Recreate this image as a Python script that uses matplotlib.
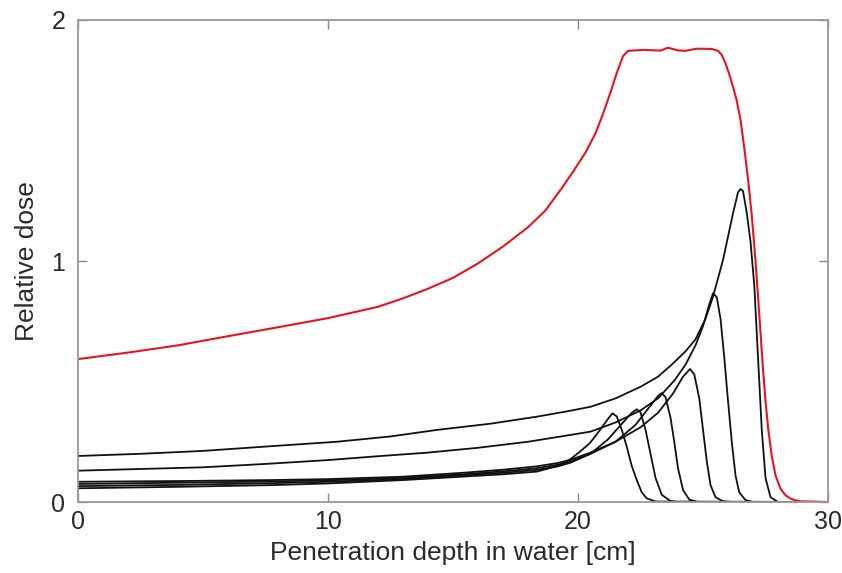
import matplotlib
matplotlib.use("Agg")
import matplotlib.pyplot as plt

plt.rcParams['font.family'] = ['Liberation Sans', 'DejaVu Sans']

# spread-out Bragg peak (red)
sobp_x = [0, 2, 4, 6, 8, 10, 12, 13, 14, 15, 16, 17, 18, 18.7, 19.3, 19.8, 20.3, 20.7, 21.0,
          21.3, 21.55, 21.8, 22.0, 22.6, 23.3, 23.6, 24.0, 24.3, 24.75, 25.35, 25.6, 25.75,
          25.9, 26.05, 26.2, 26.35, 26.5, 26.65, 26.8, 26.95, 27.1, 27.25, 27.4, 27.5, 27.6,
          27.75, 27.9, 28.1, 28.3, 28.5, 28.7, 28.9, 30]
sobp_y = [0.593, 0.62, 0.65, 0.688, 0.725, 0.763, 0.81, 0.845, 0.885, 0.93, 0.99, 1.06, 1.14,
          1.21, 1.295, 1.37, 1.45, 1.53, 1.61, 1.7, 1.78, 1.85, 1.872, 1.876, 1.873, 1.885,
          1.874, 1.872, 1.881, 1.880, 1.872, 1.855, 1.82, 1.775, 1.723, 1.665, 1.585, 1.47,
          1.34, 1.19, 1.0, 0.78, 0.55, 0.42, 0.31, 0.19, 0.11, 0.055, 0.028, 0.014, 0.007,
          0.003, 0.0]

# pristine Bragg peaks (black), shallow to deep
peak_a_x = [0, 4, 7.7, 10, 13, 15.5, 17, 18.35, 19.2, 19.7, 20.08, 20.48, 20.88, 21.2, 21.38,
            21.55, 21.75, 21.95, 22.15, 22.35, 22.55, 22.75, 23.1, 30]
peak_a_y = [0.057, 0.063, 0.07, 0.077, 0.091, 0.106, 0.115, 0.126, 0.15, 0.178, 0.209, 0.245,
            0.299, 0.345, 0.368, 0.355, 0.3, 0.229, 0.15, 0.091, 0.04, 0.015, 0.002, 0.0]

peak_b_x = [0, 4, 7.7, 10, 13, 15.5, 17, 18.35, 19.2, 19.7, 20.5, 21.2, 21.8, 22.15, 22.35,
            22.5, 22.7, 22.9, 23.1, 23.35, 23.7, 24.0, 30]
peak_b_y = [0.066, 0.071, 0.078, 0.084, 0.095, 0.111, 0.121, 0.133, 0.148, 0.163, 0.2, 0.26,
            0.33, 0.37, 0.385, 0.372, 0.3, 0.2, 0.1, 0.03, 0.004, 0.0, 0.0]

peak_c_x = [0, 4, 7.7, 10, 13, 15.5, 17, 18.35, 19.2, 19.7, 20.5, 21.5, 22.3, 22.9, 23.2,
            23.35, 23.5, 23.7, 23.85, 24.0, 24.2, 24.45, 24.8, 30]
peak_c_y = [0.075, 0.08, 0.085, 0.09, 0.1, 0.116, 0.127, 0.14, 0.155, 0.168, 0.2, 0.25, 0.32,
            0.4, 0.44, 0.452, 0.435, 0.35, 0.25, 0.14, 0.05, 0.01, 0.0, 0.0]

peak_d_x = [0, 4, 7.7, 10, 13, 15.5, 17, 18.35, 19.2, 19.7, 20.5, 21.5, 22.5, 23.2, 23.8,
            24.2, 24.48, 24.65, 24.85, 25.0, 25.15, 25.3, 25.5, 25.8, 26.2, 30]
peak_d_y = [0.084, 0.087, 0.091, 0.095, 0.105, 0.122, 0.134, 0.148, 0.162, 0.175, 0.205, 0.25,
            0.31, 0.37, 0.45, 0.52, 0.552, 0.53, 0.43, 0.3, 0.17, 0.07, 0.02, 0.003, 0.0, 0.0]

peak_e_x = [0, 2.5, 5, 7.5, 10, 12, 14, 16, 18, 19.5, 20.5, 21.5, 22.5, 23.2, 23.87, 24.3,
            24.7, 25.0, 25.25, 25.4, 25.55, 25.7, 25.85, 26.0, 26.15, 26.3, 26.45, 26.7, 27.0,
            30]
peak_e_y = [0.130, 0.137, 0.144, 0.158, 0.174, 0.19, 0.205, 0.225, 0.25, 0.275, 0.292, 0.33,
            0.38, 0.43, 0.506, 0.57, 0.65, 0.73, 0.82, 0.866, 0.85, 0.76, 0.6, 0.42, 0.25, 0.11,
            0.04, 0.008, 0.0, 0.0]

peak_f_x = [0, 2.5, 5, 7.5, 10.35, 12.5, 14.35, 16.5, 18.35, 19.5, 20.5, 21.5, 22.5, 23.2,
            23.8, 24.3, 24.7, 25.1, 25.4, 25.8, 26.2, 26.4, 26.5, 26.6, 26.75, 26.9, 27.05,
            27.2, 27.35, 27.5, 27.7, 28.0, 30]
peak_f_y = [0.191, 0.2, 0.212, 0.23, 0.25, 0.272, 0.299, 0.325, 0.354, 0.375, 0.395, 0.43,
            0.478, 0.52, 0.575, 0.625, 0.675, 0.76, 0.852, 1.004, 1.198, 1.285, 1.299, 1.29,
            1.2, 1.08, 0.9, 0.6, 0.3, 0.1, 0.02, 0.0, 0.0]

peaks = [(peak_a_x, peak_a_y), (peak_b_x, peak_b_y), (peak_c_x, peak_c_y),
         (peak_d_x, peak_d_y), (peak_e_x, peak_e_y), (peak_f_x, peak_f_y)]

fig = plt.figure(figsize=(8.42, 5.73), dpi=100)
ax = fig.add_axes([0.0926, 0.1239, 0.8908, 0.8412])

for px, py in peaks:
    ax.plot(px, py, color='#111111', lw=1.3)
ax.plot(sobp_x, sobp_y, color='#e8141c', lw=1.5)

ax.set_xlim(0, 30)
ax.set_ylim(0, 2)
ax.set_xticks([0, 10, 20, 30])
ax.set_yticks([0, 1, 2])
ax.tick_params(direction='in', length=6.5, width=1, color='#888888', top=True, right=True,
               labelsize=18, labelcolor='#2a2a2a')
ax.tick_params(axis='x', pad=6)
ax.tick_params(axis='y', pad=9)
for sp in ax.spines.values():
    sp.set_color('#999999')
    sp.set_linewidth(1.3)

ax.set_xlabel('Penetration depth in water [cm]', fontsize=19, color='#2a2a2a', labelpad=5)
ax.set_ylabel('Relative dose', fontsize=19, color='#2a2a2a', labelpad=9)

fig.savefig('out.png', dpi=100)
